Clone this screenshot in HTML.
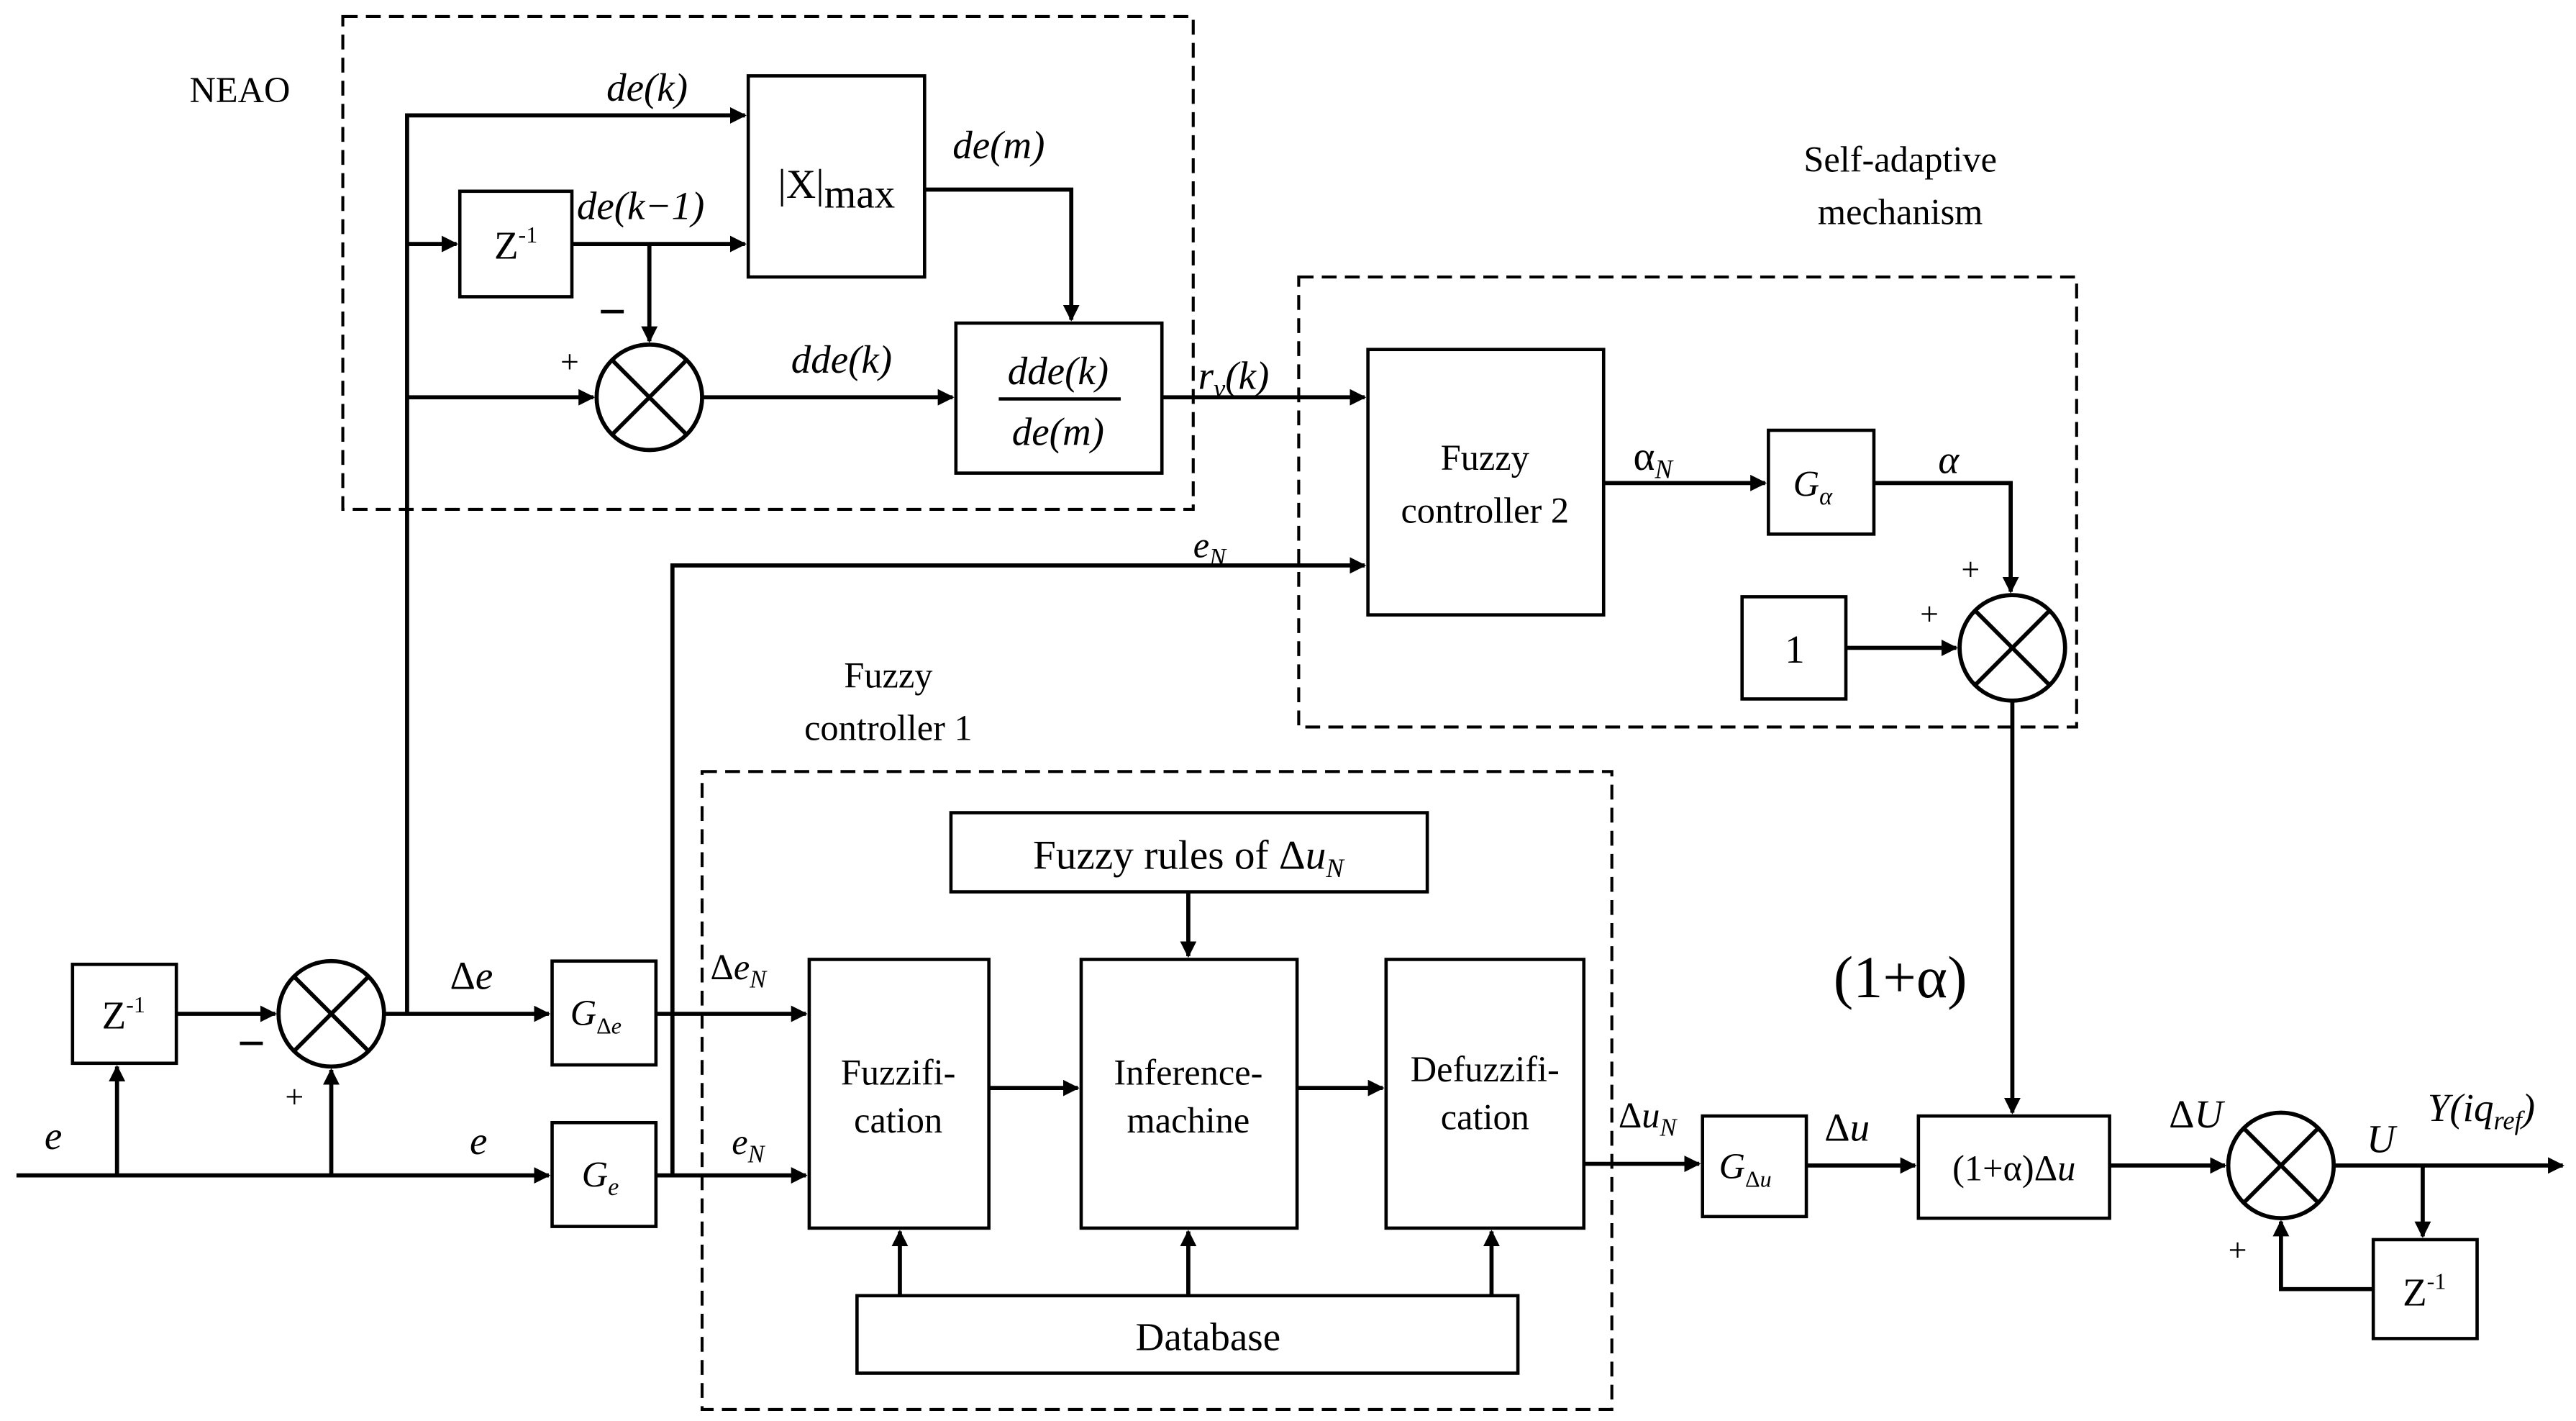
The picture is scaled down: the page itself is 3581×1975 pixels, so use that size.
<!DOCTYPE html>
<html><head><meta charset="utf-8"><style>
html,body{margin:0;padding:0;background:#fff;}
svg{display:block;}
text{font-family:"Liberation Serif",serif;fill:#000;}
</style></head><body>
<svg width="3581" height="1975" viewBox="0 0 1563 862" xmlns="http://www.w3.org/2000/svg">
<defs>
<marker id="a" markerWidth="10" markerHeight="10" refX="9" refY="5" orient="auto" markerUnits="userSpaceOnUse"><path d="M0,0 L10,5 L0,10 z" fill="#000"/></marker>
<g id="x"><circle r="32" fill="#fff" stroke="#000" stroke-width="2.5"/><line x1="-22.6" y1="-22.6" x2="22.6" y2="22.6" stroke="#000" stroke-width="2.5"/><line x1="-22.6" y1="22.6" x2="22.6" y2="-22.6" stroke="#000" stroke-width="2.5"/></g>
</defs>
<g fill="none" stroke="#000" stroke-width="1.8" stroke-dasharray="9,5">
<rect x="208" y="10" width="516" height="299"/>
<rect x="788" y="168" width="472" height="273"/>
<rect x="426" y="468" width="552" height="387"/>
</g>
<g fill="#fff" stroke="#000" stroke-width="2">
<rect x="454" y="46" width="107" height="122"/>
<rect x="279" y="116" width="68" height="64"/>
<rect x="580" y="196" width="125" height="91"/>
<rect x="830" y="212" width="143" height="161"/>
<rect x="1073" y="261" width="64" height="63"/>
<rect x="1057" y="362" width="63" height="62"/>
<rect x="577" y="493" width="289" height="48"/>
<rect x="491" y="582" width="109" height="163"/>
<rect x="656" y="582" width="131" height="163"/>
<rect x="841" y="582" width="120" height="163"/>
<rect x="520" y="786" width="401" height="47"/>
<rect x="44" y="585" width="63" height="60"/>
<rect x="335" y="583" width="63" height="63"/>
<rect x="335" y="681" width="63" height="63"/>
<rect x="1033" y="677" width="63" height="61"/>
<rect x="1164" y="677" width="116" height="62"/>
<rect x="1440" y="752" width="63" height="60"/>
</g>
<g fill="none" stroke="#000" stroke-width="2.5">
<path d="M247 615 V70 H452" marker-end="url(#a)"/>
<path d="M247 148 H277" marker-end="url(#a)"/>
<path d="M347 148 H452" marker-end="url(#a)"/>
<path d="M394 148 V207" marker-end="url(#a)"/>
<path d="M247 241 H360" marker-end="url(#a)"/>
<path d="M426 241 H578" marker-end="url(#a)"/>
<path d="M561 115 H650 V194" marker-end="url(#a)"/>
<path d="M705 241 H828" marker-end="url(#a)"/>
<path d="M408 713 V343 H828" marker-end="url(#a)"/>
<path d="M973 293 H1071" marker-end="url(#a)"/>
<path d="M1137 293 H1220 V359" marker-end="url(#a)"/>
<path d="M1120 393 H1187" marker-end="url(#a)"/>
<path d="M1221 425 V675" marker-end="url(#a)"/>
<path d="M721 541 V580" marker-end="url(#a)"/>
<path d="M600 660 H654" marker-end="url(#a)"/>
<path d="M787 660 H839" marker-end="url(#a)"/>
<path d="M546 786 V747" marker-end="url(#a)"/>
<path d="M721 786 V747" marker-end="url(#a)"/>
<path d="M905 786 V747" marker-end="url(#a)"/>
<path d="M398 615 H489" marker-end="url(#a)"/>
<path d="M398 713 H489" marker-end="url(#a)"/>
<path d="M10 713 H333" marker-end="url(#a)"/>
<path d="M71 713 V647" marker-end="url(#a)"/>
<path d="M107 615 H167" marker-end="url(#a)"/>
<path d="M201 713 V649" marker-end="url(#a)"/>
<path d="M233 615 H333" marker-end="url(#a)"/>
<path d="M961 706 H1031" marker-end="url(#a)"/>
<path d="M1096 707 H1162" marker-end="url(#a)"/>
<path d="M1280 707 H1350" marker-end="url(#a)"/>
<path d="M1416 707 H1555" marker-end="url(#a)"/>
<path d="M1470 707 V750" marker-end="url(#a)"/>
<path d="M1440 782 H1384 V741" marker-end="url(#a)"/>
</g>
<use href="#x" x="394" y="241"/>
<use href="#x" x="1221" y="393"/>
<use href="#x" x="201" y="615"/>
<use href="#x" x="1384" y="707"/>
<g font-size="22">
<text x="115" y="62">NEAO</text>
<text x="1153" y="104" text-anchor="middle">Self-adaptive</text>
<text x="1153" y="136" text-anchor="middle">mechanism</text>
<text x="539" y="417" text-anchor="middle">Fuzzy</text>
<text x="539" y="449" text-anchor="middle">controller 1</text>
<text x="901" y="285" text-anchor="middle">Fuzzy</text>
<text x="901" y="317" text-anchor="middle">controller 2</text>
<text x="545" y="658" text-anchor="middle">Fuzzifi-</text>
<text x="545" y="687" text-anchor="middle">cation</text>
<text x="721" y="658" text-anchor="middle">Inference-</text>
<text x="721" y="687" text-anchor="middle">machine</text>
<text x="901" y="656" text-anchor="middle">Defuzzifi-</text>
<text x="901" y="685" text-anchor="middle">cation</text>
<text x="733" y="819" text-anchor="middle" font-size="24">Database</text>
<text x="721" y="527" text-anchor="middle" font-size="25">Fuzzy rules of Δ<tspan font-style="italic">u</tspan><tspan font-style="italic" font-size="16" dy="5">N</tspan></text>
<text x="1089" y="402" text-anchor="middle" font-size="24">1</text>
<text x="472" y="120" font-size="25">|X|<tspan dy="6">max</tspan></text>
<text x="313" y="157" text-anchor="middle" font-size="24">Z<tspan font-size="14" dy="-10">-1</tspan></text>
<text x="75" y="624" text-anchor="middle" font-size="24">Z<tspan font-size="14" dy="-10">-1</tspan></text>
<text x="1471" y="792" text-anchor="middle" font-size="24">Z<tspan font-size="14" dy="-10">-1</tspan></text>
<g font-size="24" font-style="italic">
<text x="642" y="233" text-anchor="middle">dde(k)</text>
<text x="642" y="270" text-anchor="middle">de(m)</text>
<text x="368" y="61">de(k)</text>
<text x="350" y="133">de(k−1)</text>
<text x="480" y="226">dde(k)</text>
<text x="578" y="96">de(m)</text>
<text x="727" y="236">r<tspan font-size="16" dy="5">v</tspan><tspan dy="-5">(k)</tspan></text>
<text x="724" y="338" font-size="22">e<tspan font-size="15" dy="5">N</tspan></text>
<text x="27" y="697">e</text>
<text x="285" y="700">e</text>
<text x="444" y="700" font-size="22">e<tspan font-size="15" dy="5">N</tspan></text>
<text x="1176" y="287">α</text>
<text x="1473" y="680">Y(iq<tspan font-size="16" dy="5">ref</tspan><tspan dy="-5">)</tspan></text>
<text x="1436" y="699">U</text>
</g>
<line x1="606" y1="242" x2="680" y2="242" stroke="#000" stroke-width="2"/>
<text x="991" y="285" font-size="25">α<tspan font-style="italic" font-size="16" dy="5">N</tspan></text>
<text x="1088" y="301" font-size="22"><tspan font-style="italic">G</tspan><tspan font-style="italic" font-size="15" dy="5">α</tspan></text>
<text x="346" y="622" font-size="22"><tspan font-style="italic">G</tspan><tspan font-size="14" dy="5">Δ<tspan font-style="italic">e</tspan></tspan></text>
<text x="353" y="720" font-size="22"><tspan font-style="italic">G</tspan><tspan font-style="italic" font-size="15" dy="5">e</tspan></text>
<text x="1043" y="715" font-size="22"><tspan font-style="italic">G</tspan><tspan font-size="14" dy="5">Δ<tspan font-style="italic">u</tspan></tspan></text>
<text x="1222" y="716" text-anchor="middle" font-size="22">(1+α)Δ<tspan font-style="italic">u</tspan></text>
<text x="1153" y="605" text-anchor="middle" font-size="36">(1+α)</text>
<text x="273" y="600" font-size="24">Δ<tspan font-style="italic">e</tspan></text>
<text x="431" y="594" font-size="22">Δ<tspan font-style="italic">e</tspan><tspan font-style="italic" font-size="15" dy="5">N</tspan></text>
<text x="982" y="684" font-size="22">Δ<tspan font-style="italic">u</tspan><tspan font-style="italic" font-size="15" dy="5">N</tspan></text>
<text x="1107" y="692" font-size="24">Δ<tspan font-style="italic">u</tspan></text>
<text x="1316" y="684" font-size="24">Δ<tspan font-style="italic">U</tspan></text>
<text x="340" y="226" font-size="20">+</text>
<text x="173" y="672" font-size="20">+</text>
<text x="1190" y="352" font-size="20">+</text>
<text x="1165" y="379" font-size="20">+</text>
<text x="1352" y="765" font-size="20">+</text>
<text x="363" y="199" font-size="30" font-weight="bold">−</text>
<text x="144" y="643" font-size="30" font-weight="bold">−</text>
</g>
</svg>
</body></html>
